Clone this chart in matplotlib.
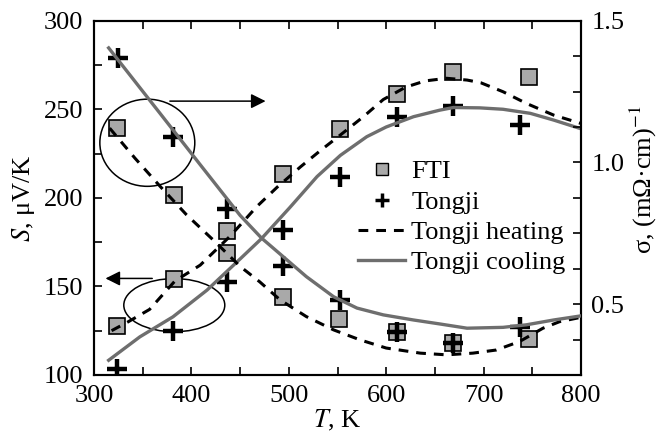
import matplotlib
matplotlib.use("Agg")
import matplotlib.pyplot as plt
from matplotlib.patches import Ellipse
from matplotlib.lines import Line2D
from matplotlib.ticker import MultipleLocator, FormatStrFormatter

plt.rcParams['font.family'] = ['Liberation Serif', 'DejaVu Serif']
plt.rcParams['mathtext.fontset'] = 'stix'
plt.rcParams['font.size'] = 19

# Seebeck coefficient (left axis)
T_s_fti = [324, 382, 437, 494, 553, 611, 669, 747]
S_fti = [127.5, 154, 181.5, 213.5, 239, 258.5, 271, 268]
T_s_tj = [324, 381, 437, 494, 553, 611, 669, 737]
S_tj = [103.5, 125, 152.5, 182, 212, 245.5, 252, 241]

T_s_heat = [318, 335, 357, 383, 409, 440, 467, 488, 512, 532, 553, 577, 597, 620, 640, 662, 683, 697, 720, 744, 772, 800]
S_heat = [125, 130, 137, 153, 162, 178.5, 195, 206, 217.5, 226.5, 235.5, 246, 255.5, 262.5, 266, 267.5, 266.5, 265, 259.9, 253.3, 246.7, 242]
T_s_cool = [315, 347, 381, 416, 450, 472, 501, 529, 553, 580, 600, 628, 655, 669, 696, 720, 748, 772, 800]
S_cool = [108.3, 121.5, 132.8, 147.9, 165.5, 177, 194.5, 212, 224, 234.5, 240, 245.8, 249.5, 251, 250.8, 250, 247.7, 243.9, 239]

# conductivity (right axis)
T_c_fti = [324, 382, 437, 494, 552, 611, 669, 747]
sig_fti = [1.12, 0.885, 0.68, 0.525, 0.447, 0.40, 0.362, 0.376]
T_c_tj = [325, 381, 437, 494, 553, 611, 669, 737]
sig_tj = [1.37, 1.09, 0.835, 0.635, 0.515, 0.403, 0.362, 0.418]

T_c_heat = [316, 342, 368, 395, 424, 450, 470, 491, 518, 546, 573, 600, 635, 662, 689, 713, 737, 761, 778, 798]
sig_heat = [1.121, 1.015, 0.915, 0.815, 0.721, 0.633, 0.579, 0.515, 0.456, 0.409, 0.374, 0.345, 0.327, 0.321, 0.327, 0.338, 0.368, 0.415, 0.438, 0.452]
T_c_cool = [315, 368, 409, 450, 472, 494, 518, 546, 570, 597, 628, 655, 683, 720, 744, 772, 799]
sig_cool = [1.404, 1.172, 0.992, 0.813, 0.733, 0.668, 0.597, 0.526, 0.486, 0.462, 0.444, 0.430, 0.415, 0.418, 0.427, 0.444, 0.458]

gray = '#6e6e6e'
sq_face = '#a9a9a9'

fig = plt.figure(figsize=(6.67, 4.36), dpi=100)
ax = fig.add_axes([0.141, 0.140, 0.730, 0.8125])
ax2 = ax.twinx()

sq_kw = dict(ls='none', marker='s', ms=12, mfc=sq_face, mec='black', mew=1.2)
cr_kw = dict(ls='none', marker='+', ms=15, mec='black', mew=3.2)
heat_kw = dict(color='black', lw=2.2, ls=(0, (3.2, 2.6)))
cool_kw = dict(color=gray, lw=2.4)

ax.plot(T_s_fti, S_fti, zorder=2, **sq_kw)
ax.plot(T_s_tj, S_tj, zorder=3, **cr_kw)
ax.plot(T_s_heat, S_heat, zorder=4, **heat_kw)
ax.plot(T_s_cool, S_cool, zorder=4, **cool_kw)

ax2.plot(T_c_fti, sig_fti, zorder=2, **sq_kw)
ax2.plot(T_c_tj, sig_tj, zorder=3, **cr_kw)
ax2.plot(T_c_heat, sig_heat, zorder=4, **heat_kw)
ax2.plot(T_c_cool, sig_cool, zorder=4, **cool_kw)

# ellipses and arrows
ax.add_patch(Ellipse((354.7, 231.1), 97.5, 49.2, fill=False, ec='black', lw=1.1))
ax.annotate('', xy=(479, 254.6), xytext=(375, 254.6),
            arrowprops=dict(arrowstyle='-|>', color='black', lw=1.1, mutation_scale=22))
ax.add_patch(Ellipse((382.4, 139.4), 103.7, 30, fill=False, ec='black', lw=1.1))
ax.annotate('', xy=(308.9, 154.5), xytext=(362.6, 154.5),
            arrowprops=dict(arrowstyle='-|>', color='black', lw=1.1, mutation_scale=22))

ax.set_xlim(300, 800)
ax.set_ylim(100, 300)
ax2.set_ylim(0.25, 1.5)

ax.xaxis.set_major_locator(MultipleLocator(100))
ax.xaxis.set_minor_locator(MultipleLocator(50))
ax.yaxis.set_major_locator(MultipleLocator(50))
ax.yaxis.set_minor_locator(MultipleLocator(25))
ax2.yaxis.set_major_locator(MultipleLocator(0.5))
ax2.yaxis.set_minor_locator(MultipleLocator(0.125))
ax2.yaxis.set_major_formatter(FormatStrFormatter('%.1f'))

ax.tick_params(axis='x', which='both', direction='in', top=True, bottom=True, length=6, width=1.2, pad=7)
ax.tick_params(axis='y', which='both', direction='in', left=True, right=False, length=6, width=1.2, pad=8)
ax2.tick_params(axis='y', which='both', direction='in', right=True, length=6, width=1.2, pad=7.5)
for a in (ax, ax2):
    for sp in a.spines.values():
        sp.set_linewidth(1.5)

ax.set_xlabel('$T$, K')
ax.xaxis.set_label_coords(0.5, -0.094)
ax.set_ylabel('$S$, μV/K')
ax.yaxis.set_label_coords(-0.117, 0.5)
ax2.set_ylabel('σ, (mΩ·cm)$^{-1}$')
ax2.yaxis.set_label_coords(1.0965, 0.551)

handles = [
    Line2D([], [], ls='none', marker='s', ms=9, mfc=sq_face, mec='black', mew=1.0),
    Line2D([], [], ls='none', marker='+', ms=10, mec='black', mew=2.5),
    Line2D([], [], **heat_kw),
    Line2D([], [], **cool_kw),
]
labels = ['FTI', 'Tongji', 'Tongji heating', 'Tongji cooling']
ax2.legend(handles, labels, loc='upper left', bbox_to_anchor=(0.537, 0.633),
           bbox_transform=fig.transFigure, frameon=False, borderpad=0,
           handlelength=1.78, handletextpad=0.23, labelspacing=0.26, borderaxespad=0)

fig.savefig('out.png', dpi=100)
